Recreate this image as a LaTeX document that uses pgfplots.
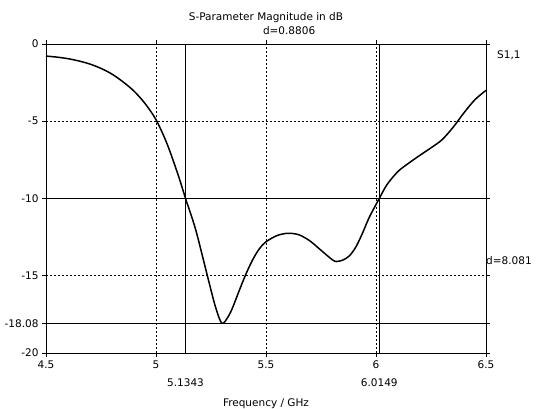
\documentclass[border=0pt]{standalone}
\usepackage{fontspec}
\setmainfont{DejaVu Sans}
\usepackage{pgfplots}
\pgfplotsset{compat=1.18}

\begin{document}
\begin{tikzpicture}[font=\fontsize{10.5}{12}\selectfont]
\path[use as bounding box] (0,0) rectangle (544pt,409pt);
\begin{axis}[
    at={(46pt,56pt)}, anchor=south west,
    scale only axis, width=440pt, height=309pt,
    xmin=4.5, xmax=6.5, ymin=-20, ymax=0,
    xtick={4.5,5,5.5,6,6.5}, xticklabels={4.5,5,5.5,6,6.5},
    ytick={-20,-15,-10,-5,0}, yticklabels={-20,-15,-10,-5,0},
    extra y ticks={-18.08}, extra y tick labels={-18.08},
    extra y tick style={grid=none},
    extra x ticks={5.1343,6.0149}, extra x tick labels={5.1343,6.0149},
    extra x tick style={grid=none, major tick length=0pt,
        tick label style={yshift=-22pt}},
    grid=major, grid style={dashed, dash pattern=on 2pt off 2pt, black, line width=0.6pt},
    tick align=outside, major tick length=4pt,
    tick style={black, line width=0.7pt},
    axis line style={line width=0.9pt},
    xlabel={Frequency / GHz},
    xlabel style={yshift=-1pt},
    title={S-Parameter Magnitude in dB},
    title style={yshift=12pt},
    clip=false,
]
% marker lines
\addplot[black, line width=1.4pt] coordinates {(5.1343,0) (5.1343,-20)};
\addplot[black, line width=1.4pt] coordinates {(6.0149,0) (6.0149,-20)};
\addplot[black, line width=1.4pt] coordinates {(4.5,-10) (6.5,-10)};
\addplot[black, line width=1.4pt] coordinates {(4.5,-18.08) (6.5,-18.08)};

% S11 magnitude
\addplot[black, line width=1.5pt, smooth] table {
4.50 -0.78
4.55 -0.85
4.60 -0.95
4.65 -1.10
4.70 -1.30
4.75 -1.58
4.80 -1.95
4.85 -2.45
4.90 -3.05
4.95 -3.85
5.00 -4.90
5.05 -6.45
5.10 -8.45
5.1343 -10.0
5.18 -12.0
5.23 -14.8
5.27 -17.0
5.30 -18.08
5.33 -17.6
5.35 -17.0
5.38 -15.9
5.41 -14.85
5.44 -13.95
5.47 -13.25
5.50 -12.8
5.55 -12.4
5.60 -12.25
5.65 -12.35
5.70 -12.75
5.75 -13.35
5.80 -13.95
5.82 -14.08
5.85 -13.98
5.88 -13.7
5.91 -13.1
5.94 -12.2
5.97 -11.2
6.0149 -10.0
6.05 -9.1
6.10 -8.25
6.15 -7.7
6.20 -7.2
6.25 -6.72
6.30 -6.2
6.35 -5.4
6.40 -4.45
6.45 -3.6
6.50 -3.0
};

\node[anchor=south, inner sep=1pt] at (axis cs:5.605,0) [yshift=8pt] {d=0.8806};
\node[anchor=west, inner sep=1pt] at (axis cs:6.5,-0.75) [xshift=10pt] {S1,1};
\node[anchor=west, inner sep=0pt] at (axis cs:6.5,-14.05) {d=8.081};
\end{axis}
\end{tikzpicture}
\end{document}
